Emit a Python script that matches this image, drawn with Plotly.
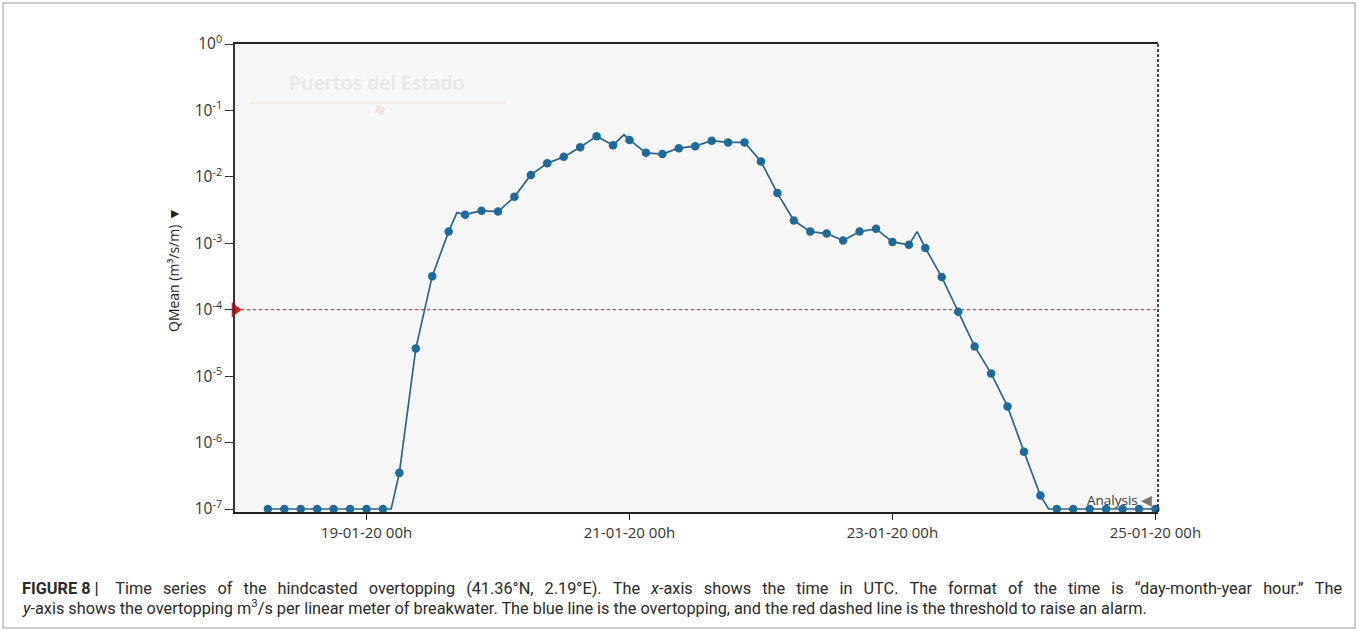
import pandas as pd
import plotly.graph_objects as go

# ---------------- data ----------------
start_time = "2020-01-18 00:00"
end_time = "2020-01-25 00:28"

# 3-hourly sampled points (hours after 18-01-20 00h)
point_hours = [6, 9, 12, 15, 18, 21, 24, 27,
               30, 33, 36, 39, 42, 45, 48, 51, 54, 57, 60, 63, 66, 69, 72, 75, 78,
               81, 84, 87, 90, 93, 96, 99, 102, 105, 108, 111, 114, 117, 120, 123,
               126, 129, 132, 135, 138, 141, 144, 147,
               150, 153, 156, 159, 162, 165, 168]
point_qmean = [1e-7, 1e-7, 1e-7, 1e-7, 1e-7, 1e-7, 1e-7, 1e-7,
               3.5e-7, 2.6e-5, 3.2e-4, 1.5e-3, 2.7e-3, 3.1e-3, 3.0e-3, 5.0e-3, 1.07e-2,
               1.6e-2, 2.0e-2, 2.8e-2, 4.1e-2, 3.0e-2, 3.6e-2, 2.3e-2, 2.2e-2,
               2.7e-2, 2.9e-2, 3.5e-2, 3.3e-2, 3.3e-2, 1.7e-2, 5.7e-3, 2.2e-3, 1.5e-3,
               1.4e-3, 1.1e-3, 1.5e-3, 1.65e-3, 1.05e-3, 9.5e-4,
               8.5e-4, 3.1e-4, 9.3e-5, 2.8e-5, 1.1e-5, 3.5e-6, 7.3e-7, 1.6e-7,
               1e-7, 1e-7, 1e-7, 1e-7, 1e-7, 1e-7, 1e-7]

# additional vertices of the continuous line (between sampled points)
line_extra_hours = [28.5, 40.5, 71, 124.5, 148.5]
line_extra_qmean = [1e-7, 2.9e-3, 4.3e-2, 1.5e-3, 1e-7]

threshold = 1e-4

x_tick_times = ["2020-01-19 00:00", "2020-01-21 00:00", "2020-01-23 00:00", "2020-01-25 00:00"]
x_tick_labels = ["19-01-20 00h", "21-01-20 00h", "23-01-20 00h", "25-01-20 00h"]
y_tick_values = [1e0, 1e-1, 1e-2, 1e-3, 1e-4, 1e-5, 1e-6, 1e-7]
y_tick_labels = ["10<sup>0</sup>", "10<sup>-1</sup>", "10<sup>-2</sup>", "10<sup>-3</sup>",
                 "10<sup>-4</sup>", "10<sup>-5</sup>", "10<sup>-6</sup>", "10<sup>-7</sup>"]

y_title = "QMean (m³/s/m) ▼"
watermark = "Puertos del Estado"
caption_1 = ("<b>FIGURE 8 |</b> Time series of the hindcasted overtopping (41.36°N, 2.19°E). "
             "The <i>x</i>-axis shows the time in UTC. The format of the time is "
             "“day-month-year hour.” The")
caption_2 = ("<i>y</i>-axis shows the overtopping m<sup>3</sup>/s per linear meter of breakwater. "
             "The blue line is the overtopping, and the red dashed line is the threshold to raise an alarm.")

# ---------------- build ----------------
base = pd.Timestamp(start_time)
pt_times = [base + pd.Timedelta(hours=h) for h in point_hours]
line_pairs = sorted(list(zip(point_hours, point_qmean)) + list(zip(line_extra_hours, line_extra_qmean)))
line_times = [base + pd.Timedelta(hours=h) for h, _ in line_pairs]
line_vals = [v for _, v in line_pairs]

# the first caption line is justified in the reference: widen its word gaps
caption_1_justified = caption_1.replace(" ", "\u2004\u2004").replace(
    "<b>FIGURE\u2004\u20048\u2004\u2004|</b>\u2004\u2004", "<b>FIGURE 8 |</b>\u2004\u2004\u2004")

fig = go.Figure()

# threshold line
fig.add_trace(go.Scatter(x=[start_time, end_time], y=[threshold, threshold], mode="lines",
                         line=dict(color="#e2463c", width=1.2, dash="3px,3px"),
                         hoverinfo="skip", showlegend=False))
# threshold marker
fig.add_trace(go.Scatter(x=[start_time], y=[threshold], mode="markers",
                         marker=dict(symbol="triangle-right", size=13, color="#e8120c"),
                         cliponaxis=False, showlegend=False))
# overtopping line
fig.add_trace(go.Scatter(x=line_times, y=line_vals, mode="lines",
                         line=dict(color="#2e6587", width=1.7),
                         showlegend=False))
# overtopping points
fig.add_trace(go.Scatter(x=pt_times, y=point_qmean, mode="markers",
                         marker=dict(color="#1e6a9a", size=8.5),
                         cliponaxis=False, showlegend=False))

W, H = 1358, 631
L, R, T, B = 235, 200, 44, 119
pw, ph = W - L - R, H - T - B


def px(xp):
    return (xp - L) / pw


def py(yp):
    return (H - B - yp) / ph


fig.update_layout(
    width=W, height=H,
    margin=dict(l=L, r=R, t=T, b=B, pad=0),
    paper_bgcolor="white",
    plot_bgcolor="#f7f7f7",
    font=dict(family="Open Sans", size=14, color="#333333"),
    xaxis=dict(type="date", range=[start_time, end_time], tickvals=x_tick_times,
               ticktext=x_tick_labels, showgrid=False, zeroline=False,
               showline=True, linecolor="#222222", linewidth=1.5, mirror=True,
               ticks="outside", ticklen=6, tickcolor="#222222", tickwidth=1.2,
               tickfont=dict(family="Open Sans", size=15, color="#333333")),
    yaxis=dict(type="log", range=[-7.045, 0], tickvals=y_tick_values, ticktext=y_tick_labels,
               showgrid=False, zeroline=False, showline=True, linecolor="#333333",
               linewidth=1.5, ticks="outside", ticklen=8, tickcolor="#333333",
               tickwidth=1.2, tickfont=dict(family="Open Sans", size=15.5, color="#333333")),
)

shapes = [
    # right dashed boundary
    dict(type="line", xref="paper", yref="paper", x0=1, x1=1, y0=0, y1=1,
         line=dict(color="#111111", width=1.5, dash="3px,2px")),
    # watermark underline
    dict(type="line", xref="paper", yref="paper", x0=px(250), x1=px(505), y0=py(103), y1=py(103),
         line=dict(color="#efe9df", width=1.5)),
    # outer frame
    dict(type="rect", xref="paper", yref="paper", x0=px(3), x1=px(1355), y0=py(628), y1=py(3),
         line=dict(color="#9a9a9a", width=1)),
]
fig.update_layout(shapes=shapes)

annotations = [
    dict(text=y_title, xref="paper", yref="paper", x=px(173), y=py(270), textangle=-90,
         showarrow=False, xanchor="center", yanchor="middle",
         font=dict(family="Open Sans", size=14, color="#222222")),
    dict(text=watermark, xref="paper", yref="paper", x=px(377), y=py(82), showarrow=False,
         xanchor="center", yanchor="middle",
         font=dict(family="Open Sans", size=19.5, color="#e8e8e8", weight=600)),
    dict(text="≋", xref="paper", yref="paper", x=px(380), y=py(110), showarrow=False,
         xanchor="center", yanchor="middle", textangle=20,
         font=dict(family="DejaVu Sans", size=14, color="#f2d4d4")),
    dict(text="Analysis <span style='color:#777'>◀</span>", xref="paper", yref="paper",
         x=px(1154), y=py(500), showarrow=False, xanchor="right", yanchor="middle",
         font=dict(family="Open Sans", size=13.5, color="#3a3a3a")),
    dict(text=caption_1_justified, xref="paper", yref="paper", x=px(20), y=py(588), showarrow=False,
         xanchor="left", yanchor="middle", align="left",
         font=dict(family="Roboto", size=16.3, color="#2a2a2a")),
    dict(text=caption_2, xref="paper", yref="paper", x=px(20), y=py(607), showarrow=False,
         xanchor="left", yanchor="middle", align="left",
         font=dict(family="Roboto", size=16.3, color="#2a2a2a")),
]
fig.update_layout(annotations=annotations)

fig.write_html("out.html", config={"displayModeBar": False},
               post_script="document.body.style.margin='0';document.body.style.overflow='hidden';")
